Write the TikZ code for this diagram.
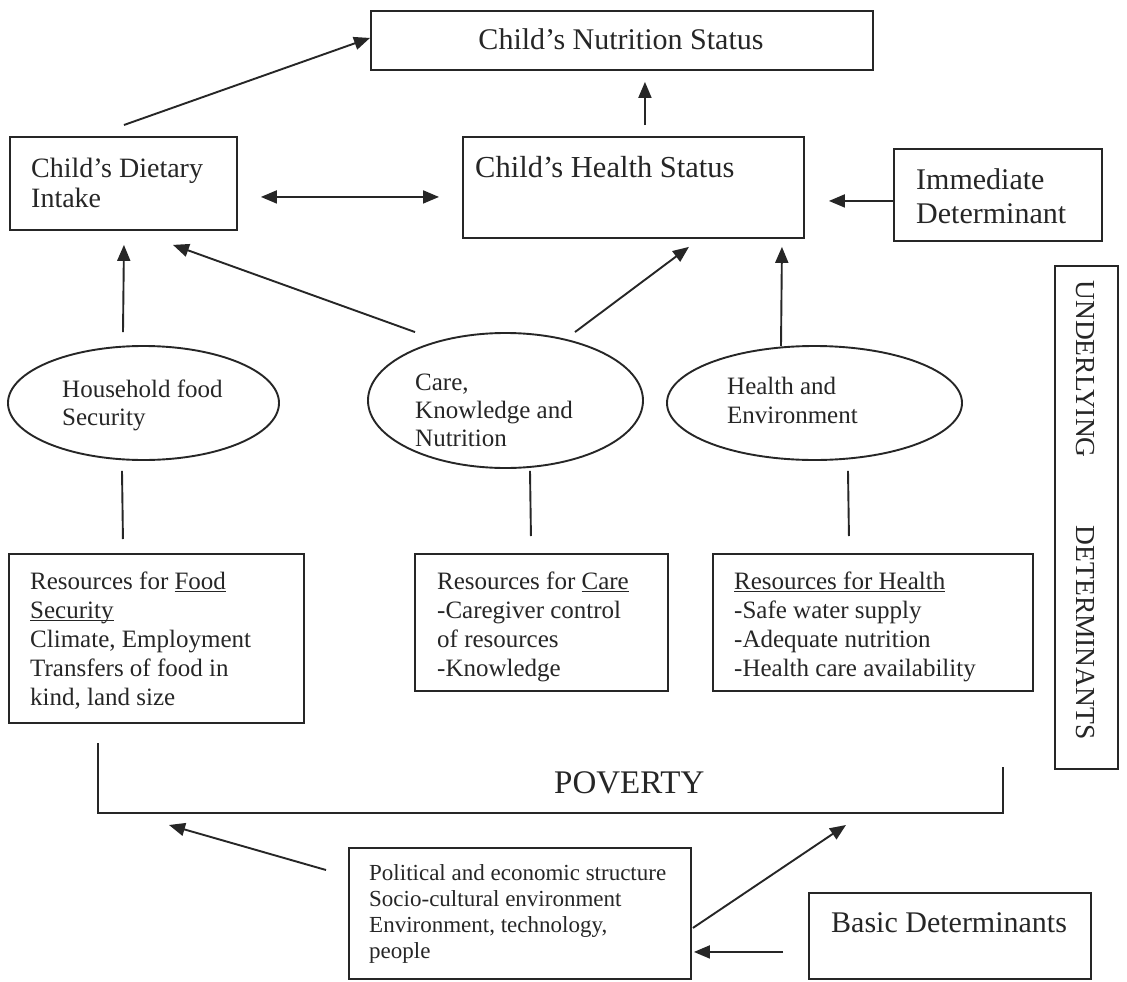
\documentclass[tikz,border=0pt]{standalone}
\usepackage{fontspec}
\setmainfont{Liberation Serif}
\usetikzlibrary{arrows.meta,shapes.geometric,calc}
\definecolor{ink}{HTML}{262626}
\newcommand{\undl}[1]{\leavevmode\setbox0\hbox{#1}\rlap{\raisebox{-3.4pt}{\rule{\wd0}{1.2pt}}}\box0}
\tikzset{
  box/.style={draw=ink, line width=1.9pt, inner sep=0pt, anchor=north west},
  oval/.style={draw=ink, line width=1.9pt, ellipse, inner sep=0pt},
  arr/.style={draw=ink, line width=1.9pt, -{Triangle[length=16pt,width=13pt]}},
  dblarr/.style={draw=ink, line width=1.9pt, {Triangle[length=16pt,width=13pt]}-{Triangle[length=16pt,width=13pt]}},
  ln/.style={draw=ink, line width=1.9pt},
  txt/.style={text=ink, inner sep=0pt, anchor=base west},
  bigf/.style={font=\fontsize{30}{34}\selectfont},
}
\begin{document}
\begin{tikzpicture}[x=1pt,y=-1pt]
\useasboundingbox[fill=white] (0,0) rectangle (1127,982);

% boxes
\node[box, minimum width=502pt, minimum height=59pt] (nut) at (370,10) {};
\node[box, minimum width=227pt, minimum height=93pt] (diet) at (9,136) {};
\node[box, minimum width=341pt, minimum height=101pt] (health) at (462,136) {};
\node[box, minimum width=208pt, minimum height=92pt] (imm) at (893,148) {};
\node[box, minimum width=295pt, minimum height=169pt] (food) at (8,553) {};
\node[box, minimum width=253pt, minimum height=137pt] (careres) at (414,553) {};
\node[box, minimum width=320pt, minimum height=137pt] (healthres) at (712,553) {};
\node[box, minimum width=63pt, minimum height=503pt] (under) at (1054,265) {};
\node[box, minimum width=342pt, minimum height=131pt] (pol) at (348,847) {};
\node[box, minimum width=282pt, minimum height=86pt] (basic) at (808,892) {};

% ellipses
\node[oval, minimum width=271pt, minimum height=114pt] (hf) at (143.5,403) {};
\node[oval, minimum width=275pt, minimum height=135pt] (care) at (505.5,400.5) {};
\node[oval, minimum width=295pt, minimum height=114pt] (hae) at (814.5,403) {};

% texts
\node[txt, bigf, anchor=base] (nutT) at (621,50) {Child’s Nutrition Status};
\node[txt] (dietT) at (31,177) {\parbox[t]{200pt}{\fontsize{28}{30}\selectfont Child’s Dietary\\Intake}};
\node[txt, font=\fontsize{30.5}{34}\selectfont] (healthT) at (475,177) {Child’s Health Status};
\node[txt] (immT) at (916,189) {\parbox[t]{185pt}{\fontsize{30}{34}\selectfont Immediate\\Determinant}};
\node[txt] (hfT) at (62,397) {\parbox[t]{200pt}{\fontsize{25}{28}\selectfont Household food\\Security}};
\node[txt] (careT) at (415,390) {\parbox[t]{220pt}{\fontsize{25}{28}\selectfont Care,\\Knowledge and\\Nutrition}};
\node[txt] (haeT) at (727,394) {\parbox[t]{220pt}{\fontsize{25}{29}\selectfont Health and\\Environment}};
\node[txt] (foodT) at (30,589) {\parbox[t]{270pt}{\fontsize{25}{29}\selectfont Resources for \undl{Food}\\\undl{Security}\\Climate, Employment\\Transfers of food in\\kind, land size}};
\node[txt] (careresT) at (437,589) {\parbox[t]{230pt}{\fontsize{25}{29}\selectfont Resources for \undl{Care}\\-Caregiver control\\of resources\\-Knowledge}};
\node[txt] (healthresT) at (734,589) {\parbox[t]{290pt}{\fontsize{25}{29}\selectfont \undl{Resources for Health}\\-Safe water supply\\-Adequate nutrition\\-Health care availability}};
\node[txt, font=\fontsize{33}{36}\selectfont] (povT) at (554,793) {POVERTY};
\node[txt] (polT) at (369,880) {\parbox[t]{320pt}{\fontsize{23}{26}\selectfont Political and economic structure\\Socio-cultural environment\\Environment, technology,\\people}};
\node[txt, bigf] (basicT) at (831,932) {Basic Determinants};
\node[text=ink, inner sep=0pt, rotate=-90, font=\fontsize{27.5}{30}\selectfont] (underT) at (1085,510) {UNDERLYING\hspace{68pt}DETERMINANTS};

% poverty bracket
\coordinate (povTL) at (98,743);
\coordinate (povBL) at (98,813);
\coordinate (povBR) at (1003,813);
\coordinate (povTR) at (1003,767);
\draw[ln] (povTL) -- (povBL) -- (povBR) -- (povTR);

% arrows (immediate level)
\draw[arr] ($(diet.north)+(0.5,-11)$) -- ($(nut.west)+(0,-2.5)$);
\draw[arr] ($(health.north)+(11.5,-11)$) -- ($(nut.south)+(23,11)$);
\draw[dblarr] ($(diet.east)+(23,13.5)$) -- ($(health.west)+(-23,9.5)$);
\draw[arr] ($(imm.west)+(0,6)$) -- ($(health.east)+(24,13.5)$);

% arrows (underlying level)
\draw[arr] ($(hf.north)+(-20.5,-13)$) -- ($(diet.south)+(0.5,14)$);
\draw[arr] ($(care.north)+(-90.5,0)$) -- ($(diet.south)+(49.5,14)$);
\draw[arr] ($(care.north)+(69.5,0)$) -- ($(health.south)+(55.5,8)$);
\draw[arr] ($(hae.north)+(-33.5,1)$) -- ($(health.south)+(148.5,8)$);

% plain links
\draw[ln] ($(hf.south)+(-21.5,10)$) -- ($(food.north)+(-33.5,-14)$);
\draw[ln] ($(care.south)+(24.5,2)$) -- ($(careres.north)+(-10.5,-17)$);
\draw[ln] ($(hae.south)+(33.5,10)$) -- ($(healthres.north)+(-24,-17)$);

% basic determinants
\draw[arr] ($(pol.north west)+(-22,23)$) -- ($(povBL)+(71,12)$);
\draw[arr] ($(pol.east)+(1,14.5)$) -- ($(povBR)+(-157,12)$);
\draw[arr] ($(basic.west)+(-25,16)$) -- ($(pol.east)+(2,38.5)$);
\end{tikzpicture}
\end{document}
